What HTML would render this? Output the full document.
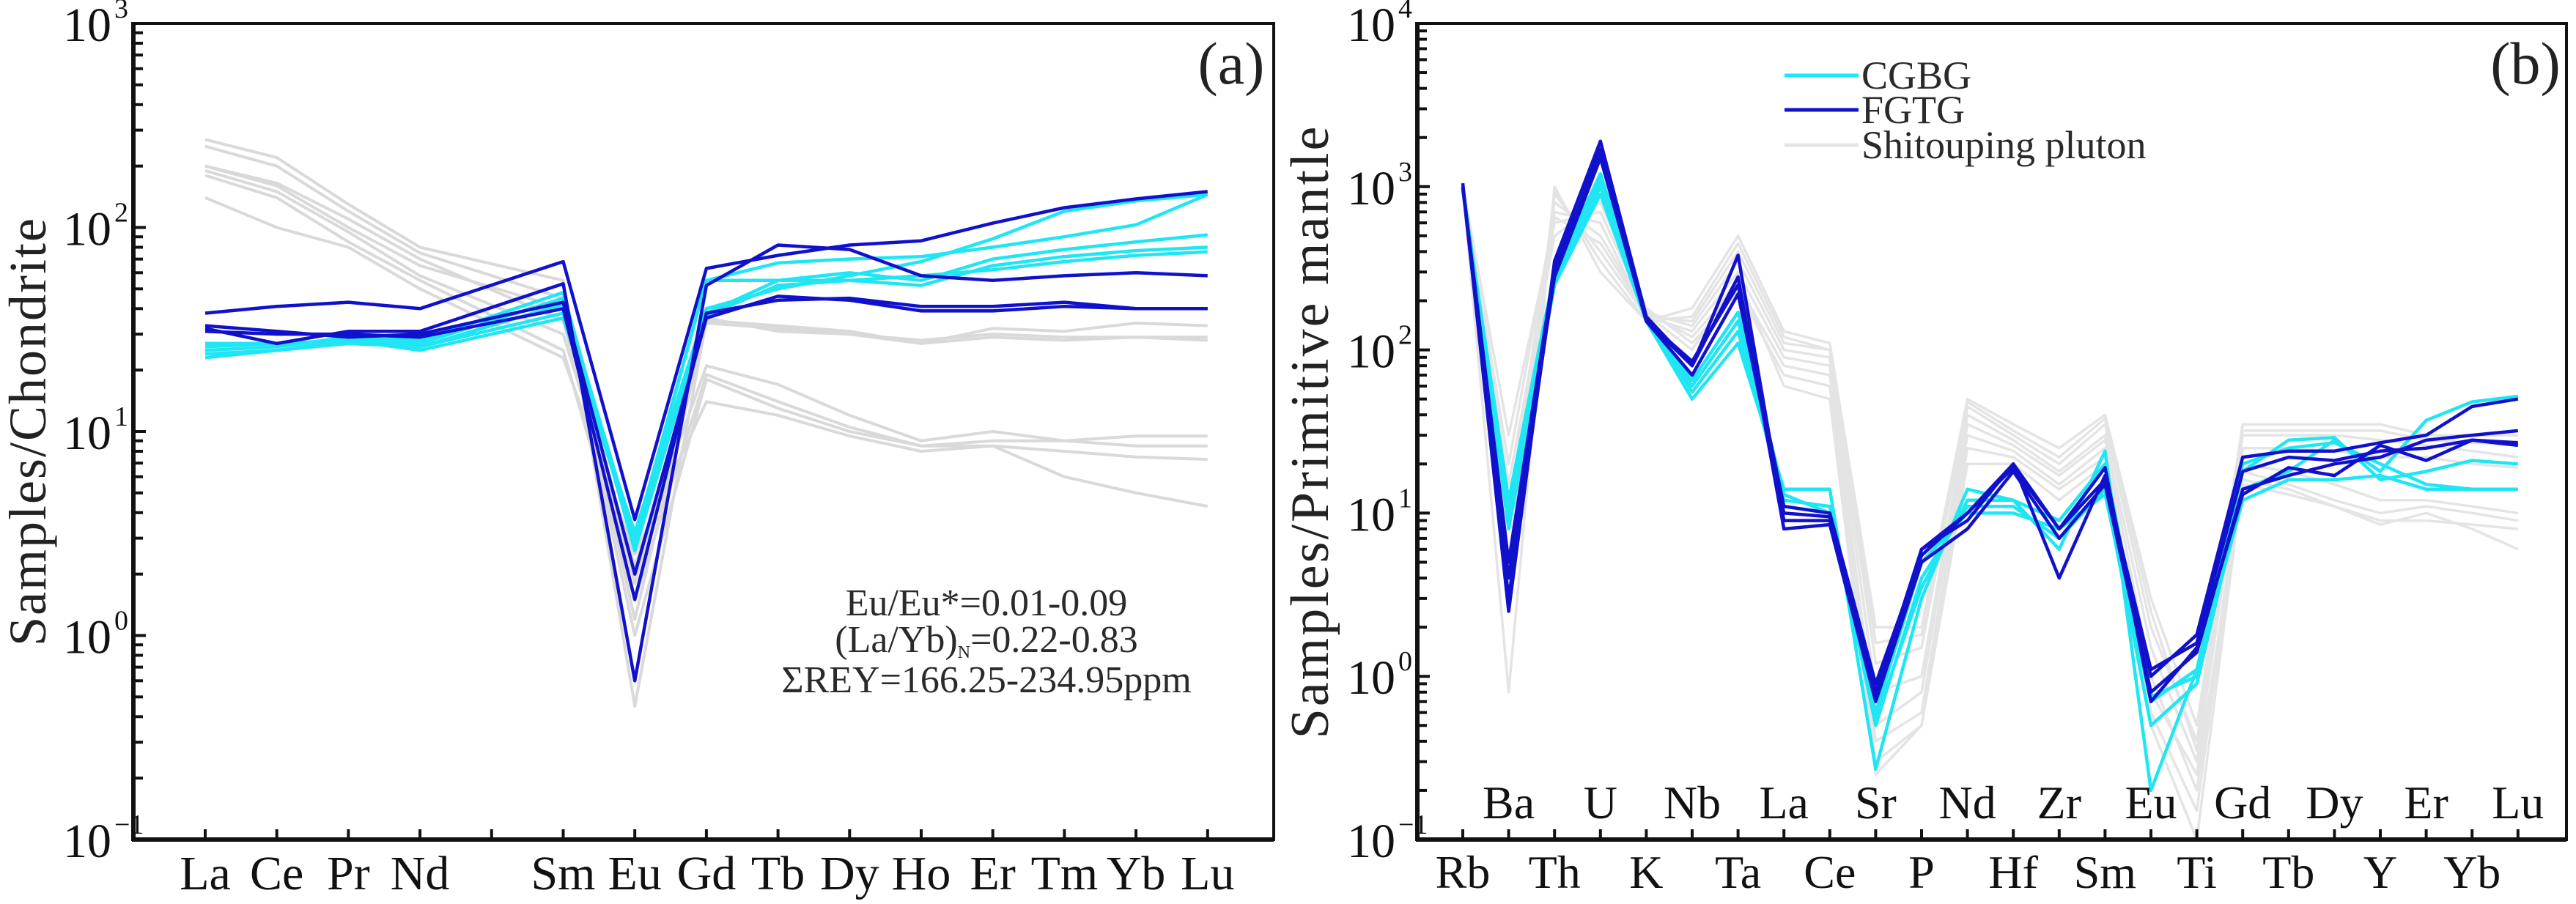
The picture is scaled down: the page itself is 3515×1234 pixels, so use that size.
<!DOCTYPE html>
<html><head><meta charset="utf-8"><style>
html,body{margin:0;padding:0;background:#fff;}
svg{display:block;font-family:"Liberation Serif",serif;}
</style></head><body>
<svg id="chart" width="3515" height="1234" viewBox="0 0 3515 1234" xmlns="http://www.w3.org/2000/svg">
<g id="pa"></g>
<g id="pb"></g>
</svg>
<script>
// ---------- Panel (a) data: chondrite-normalised REE ----------
const reeCats = ["La","Ce","Pr","Nd","Pm","Sm","Eu","Gd","Tb","Dy","Ho","Er","Tm","Yb","Lu"];
const reeLabels = ["La","Ce","Pr","Nd","","Sm","Eu","Gd","Tb","Dy","Ho","Er","Tm","Yb","Lu"];
const aTicks = [-1,0,1,2,3];
const aGrey1 = [270,220,130,80,null,55,0.45,35,33,31,27,32,31,34,33];
const aGrey2 = [250,200,120,75,null,45,1.2,34,32,30,28,30,29,29,28];
const aGrey3 = [200,165,110,70,null,35,1.8,36,31,30,27,29,28,29,29];
const aGrey4 = [190,150,95,58,null,30,2.2,21,17,12,9,10,9,9.5,9.5];
const aGrey5 = [180,140,85,55,null,25,1.5,19,14,10.5,8.5,9,9,8.5,8.5];
const aGrey6 = [140,100,80,50,null,23,2.5,14,12,9.5,8,8.5,6,5,4.3];
const aGrey7 = [200,160,100,65,null,40,1.0,18,13,10,8.5,8.5,8,7.5,7.3];
const aCyan1 = [27,27,28,27,null,45,3.0,55,67,70,72,80,90,103,145];
const aCyan2 = [25,26,29,28,null,48,2.6,38,55,60,55,70,78,85,92];
const aCyan3 = [23,25,28,25,null,36,3.2,40,50,58,68,88,120,135,145];
const aCyan4 = [26,27,28,26,null,42,2.8,37,52,55,52,65,72,77,80];
const aCyan5 = [24,25,27,26,null,38,2.9,55,55,55,58,62,68,73,76];
const aBlue1 = [38,41,43,40,null,68,3.7,63,73,82,86,105,125,138,150];
const aBlue2 = [32,27,31,31,null,53,0.6,52,82,78,58,55,58,60,58];
const aBlue3 = [31,30,30,29,null,40,1.5,38,44,45,41,41,43,40,40];
const aBlue4 = [33,31,29,30,null,43,2.0,36,46,44,39,39,41,40,40];

// ---------- Panel (b) data: primitive-mantle-normalised spider ----------
const spCats = ["Rb","Ba","Th","U","K","Nb","Ta","La","Ce","Sr","P","Nd","Hf","Zr","Sm","Eu","Ti","Gd","Tb","Dy","Y","Er","Yb","Lu"];
const bTicks = [-1,0,1,2,3,4];
const bGrey1 = [1000,0.8,1000,300,150,180,500,130,110,2,2,50,35,25,40,3,0.5,35,35,35,35,30,30,30];
const bGrey2 = [1000,5,900,400,160,150,400,110,100,1.2,1.5,45,30,20,35,2,0.4,30,30,30,28,26,24,22];
const bGrey3 = [1000,10,800,500,170,140,350,100,90,0.8,1,40,28,18,30,1.5,0.3,25,25,24,22,22,20,19];
const bGrey4 = [1000,20,700,600,160,130,300,90,80,0.5,0.8,35,26,17,28,1,0.2,20,18,15,12,12,11,10];
const bGrey5 = [1000,30,600,700,170,120,250,80,70,0.4,0.6,30,24,15,25,0.6,0.15,18,15,12,10,11,10,9];
const bGrey6 = [1000,15,500,800,180,110,230,70,60,0.3,0.5,25,22,14,22,0.5,0.1,16,14,11,8.5,10,8,6];
const bGrey7 = [1000,3,950,350,150,160,450,120,100,1.6,1.8,48,32,22,38,2.5,0.35,32,32,32,32,28,27,26];
const bGrey8 = [1000,8,650,450,165,100,280,60,50,0.25,0.5,20,20,12,20,0.8,0.25,15,13,11,9,9,8.5,8];
const bCyan1 = [1000,8,250,900,150,50,110,14,14,0.27,3,14,12,6,24,0.2,1.1,12,16,16,17,14,14,14];
const bCyan2 = [950,10,280,1100,160,55,130,12,11,0.5,4,11,11,7,14,0.5,0.9,14,18,28,18,37,48,52];
const bCyan3 = [950,12,300,1200,160,60,150,11,10,0.6,5,10,10,8,13,0.7,1.1,18,28,29,16,18,21,20];
const bCyan4 = [1000,9,260,1000,155,65,170,13,10,0.55,3.5,12,12,9,20,0.75,1.0,20,25,27,20,15,14,14];
const bBlue1 = [1050,2.5,350,1900,160,80,380,9,9,0.75,6,9,20,4,17,1.0,1.8,22,24,24,27,30,45,50];
const bBlue2 = [1000,3,300,1700,150,80,280,8,8.5,0.7,5,8,18,7,15,0.8,1.4,14,17,20,22,28,30,32];
const bBlue3 = [1000,4,280,1500,150,70,220,10,9.5,0.8,6,10,20,8,19,0.7,1.5,13,19,17,26,21,28,27];
const bBlue4 = [1000,5,320,1600,150,85,250,11,10,0.9,5.5,10,19,8,16,1.1,1.6,18,22,21,24,25,28,26];

const CYAN="#1fe6f2", BLUE="#1111cc";
const NS="http://www.w3.org/2000/svg";
function mk(tag, attrs, parent){const e=document.createElementNS(NS,tag);for(const k in attrs)e.setAttribute(k,attrs[k]);parent.appendChild(e);return e;}

function panel(g, o){
  const {L,R,T,B,minE,maxE,x0,dx,n}=o;
  const y=v=>B-(Math.log10(v)-minE)/(maxE-minE)*(B-T);
  const x=i=>x0+i*dx;
  const series=[...o.grey.map(s=>[s,o.greyCol,'grey']),...o.cyan.map(s=>[s,CYAN,'cyan']),...o.blue.map(s=>[s,BLUE,'blue'])];
  series.forEach(([arr,col,kind],si)=>{
    let d='';arr.forEach((v,i)=>{if(v==null)return;d+=(d?'L':'M')+x(i).toFixed(1)+','+y(v).toFixed(1);});
    const p=mk('path',{d:d,fill:'none',stroke:col,'stroke-width':kind==='grey'?o.greyW:4.5,'stroke-linejoin':'round'},g);
    
    
  });
  const fr=mk('rect',{x:L,y:T,width:R-L,height:B-T,fill:'none',stroke:'#111','stroke-width':4},g);
  
  
  mk('line',{x1:L,y1:T-2,x2:L,y2:B+2,stroke:'#111','stroke-width':6},g);
  mk('line',{x1:L-2,y1:B,x2:R,y2:B,stroke:'#111','stroke-width':6},g);
  o.ticks.forEach(e=>{
    const ty=y(Math.pow(10,e));
    mk('line',{x1:L,y1:ty,x2:L+17,y2:ty,stroke:'#111','stroke-width':4},g);
    const t=mk('text',{x:L-30,y:ty+24,'font-size':66,'text-anchor':'end',fill:'#111'},g);
    t.textContent='10';
    
    
    const s=mk('text',{x:L-26,y:ty-8,'font-size':38,'text-anchor':'start',fill:'#111'},g);
    s.textContent=e<0?'\u2212'+(-e):String(e);
    if(e<maxE){for(let m=2;m<10;m++){const my=y(m*Math.pow(10,e));mk('line',{x1:L,y1:my,x2:L+13,y2:my,stroke:'#111','stroke-width':4},g);}}
  });
  for(let i=0;i<n;i++){mk('line',{x1:x(i),y1:B,x2:x(i),y2:B-14,stroke:'#111','stroke-width':4},g);}
  o.xlabels(g,x);
  const yt=mk('text',{x:0,y:0,'font-size':o.ytsize,'text-anchor':'middle',fill:'#222',transform:`translate(${o.ytx},${(T+B)/2}) rotate(-90)`,'letter-spacing':o.ytls},g);
  yt.textContent=o.ytitle;
  
  
  const pl=mk('text',{x:o.plx,y:T+82,'font-size':82,'text-anchor':'middle',fill:'#222'},g);
  pl.textContent=o.plabel;
  
  
}

const ga=document.getElementById('pa');
panel(ga,{id:'a',L:182,R:1738,T:32,B:1146,minE:-1,maxE:3,x0:280,dx:97.7,n:reeCats.length,ticks:aTicks,
  grey:[aGrey1,aGrey2,aGrey3,aGrey4,aGrey5,aGrey6,aGrey7],cyan:[aCyan1,aCyan2,aCyan3,aCyan4,aCyan5],blue:[aBlue1,aBlue2,aBlue3,aBlue4],
  greyCol:'#d9d9d9',greyW:4,
  ytitle:'Samples/Chondrite',ytx:62,ytsize:72,ytls:2,plabel:'(a)',plx:1680,
  xlabels:(g,x)=>{reeLabels.forEach((l,i)=>{if(!l)return;const t=mk('text',{x:x(i),y:1214,'font-size':66,'text-anchor':'middle',fill:'#111'},g);t.textContent=l;
    
    });}
});
[["Eu/Eu*=0.01-0.09",840],["(La/Yb)",890],["\u03A3REY=166.25-234.95ppm",945]].forEach((r,k)=>{
  const t=mk('text',{x:1346,y:r[1],'font-size':52,'text-anchor':'middle',fill:'#2a2a2a'},ga);
  if(k===1){t.innerHTML='(La/Yb)<tspan font-size="24" dy="8">N</tspan><tspan dy="-8">=0.22-0.83</tspan>';}
  else t.textContent=r[0];
  
  
});

const gb=document.getElementById('pb');
panel(gb,{id:'b',L:1934,R:3502,T:32,B:1146,minE:-1,maxE:4,x0:1996,dx:62.6,n:spCats.length,ticks:bTicks,
  grey:[bGrey1,bGrey2,bGrey3,bGrey4,bGrey5,bGrey6,bGrey7,bGrey8],cyan:[bCyan1,bCyan2,bCyan3,bCyan4],blue:[bBlue1,bBlue2,bBlue3,bBlue4],
  greyCol:'#e4e4e4',greyW:3.5,
  ytitle:'Samples/Primitive mantle',ytx:1812,ytsize:74,ytls:3,plabel:'(b)',plx:3446,
  xlabels:(g,x)=>{spCats.forEach((l,i)=>{const t=mk('text',{x:x(i),y:i%2?1117:1212,'font-size':64,'text-anchor':'middle',fill:'#111'},g);t.textContent=l;
    
    });}
});
const legItems=[["CGBG",CYAN,103],["FGTG",BLUE,150],["Shitouping pluton","#e4e4e4",198]];
const lg=mk('g',{},gb);


legItems.forEach(it=>{
  mk('line',{x1:2435,y1:it[2],x2:2536,y2:it[2],stroke:it[1],'stroke-width':5},lg);
  const t=mk('text',{x:2540,y:it[2]+18,'font-size':54,fill:'#2a2a2a'},lg);
  t.textContent=it[0];
  
  
});
</script>
</body></html>
